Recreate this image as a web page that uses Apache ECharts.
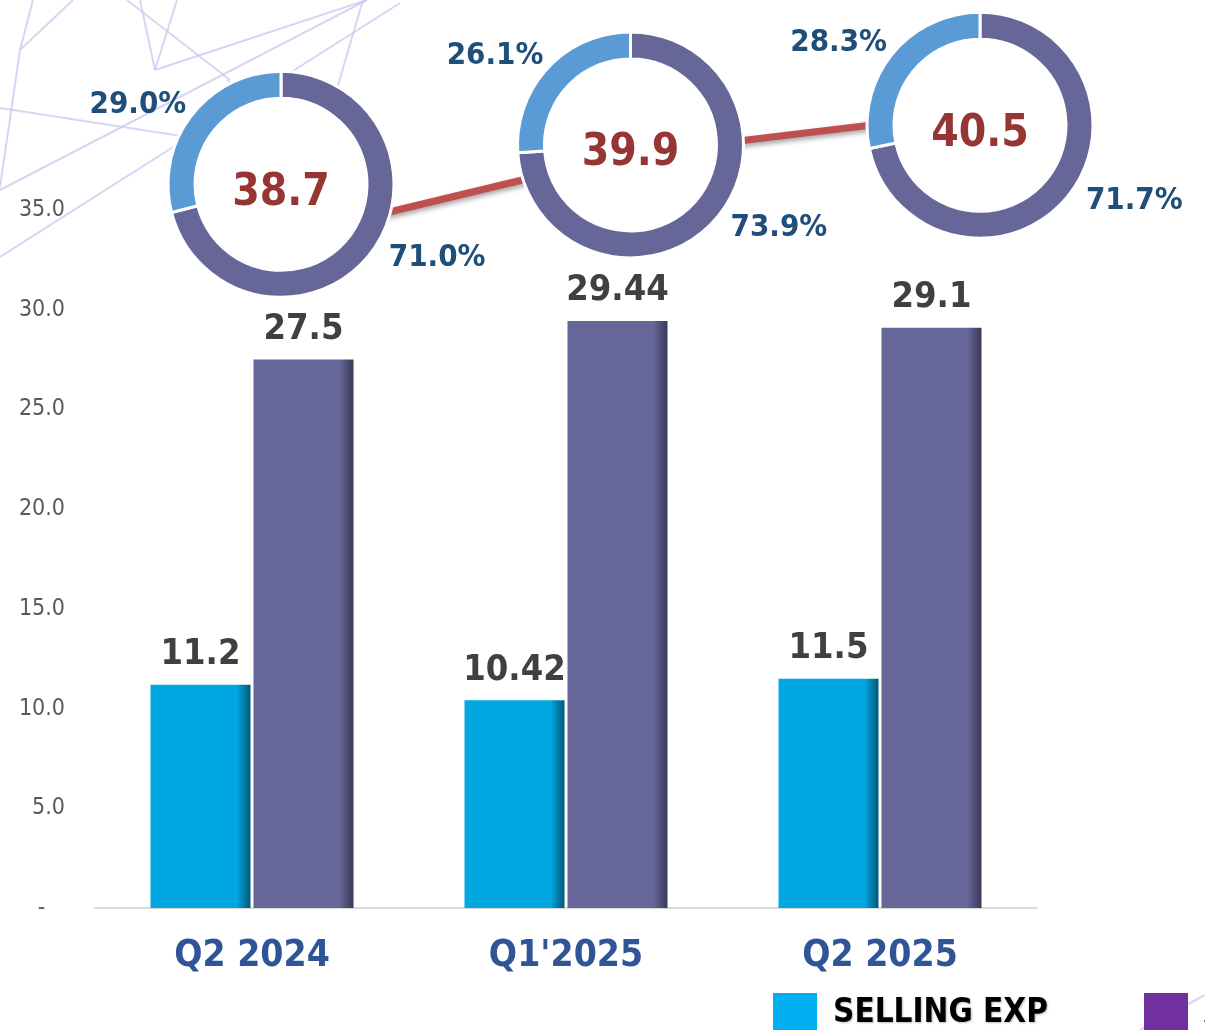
<!DOCTYPE html>
<html>
<head>
<meta charset="utf-8">
<script src="https://cdn.jsdelivr.net/npm/echarts@6/dist/echarts.min.js"></script>
<style>
  html, body { margin: 0; padding: 0; background: #fff; }
  #main { width: 1205px; height: 1030px; }
</style>
</head>
<body>
<div id="main"></div>
<script>
// chart data
var quarters = ['Q2 2024', "Q1'2025", 'Q2 2025'];
var sellingExp = [11.2, 10.42, 11.5];
var adminExp = [27.5, 29.44, 29.1];
var totalExp = [38.7, 39.9, 40.5];
var sellingPct = [29.0, 26.1, 28.3];
var adminPct = [71.0, 73.9, 71.7];
var legendNames = ['SELLING EXP', 'ADMIN EXP'];

var FONT = '"DejaVu Sans Condensed", "DejaVu Sans", sans-serif';

function barColor(main, dark) {
  return new echarts.graphic.LinearGradient(0, 0, 1, 0, [
    { offset: 0, color: main },
    { offset: 0.86, color: main },
    { offset: 1, color: dark }
  ]);
}

// faint decoration lines in the background
var deco = [
  [[0, 108], [317, 157]], [[33, 0], [20, 50]], [[20, 50], [0, 187]],
  [[20, 50], [73, 0]], [[140, 0], [155, 70]], [[155, 70], [177, 0]],
  [[155, 70], [367, 0]], [[127, 0], [230, 80]], [[0, 190], [367, 0]],
  [[0, 257], [400, 3]], [[317, 157], [363, 0]], [[317, 157], [227, 80]],
  [[1140, 1030], [1205, 995]]
];
var decoGraphics = deco.map(function (p) {
  return {
    type: 'line', silent: true, z: -10,
    shape: { x1: p[0][0], y1: p[0][1], x2: p[1][0], y2: p[1][1] },
    style: { stroke: 'rgba(200,200,240,0.75)', lineWidth: 2 }
  };
});

var chart = echarts.init(document.getElementById('main'));

var option = {
  animation: false,
  backgroundColor: '#fff',
  graphic: decoGraphics,
  legend: {
    data: [
      { name: legendNames[0], itemStyle: { color: '#00b0f0' } },
      { name: legendNames[1], itemStyle: { color: '#7030a0' } }
    ],
    icon: 'rect',
    left: 768,
    top: 988,
    width: 3000,
    itemWidth: 44,
    itemHeight: 40,
    itemGap: 96,
    selectedMode: false,
    textStyle: {
      fontFamily: FONT, fontSize: 33, fontWeight: 'bold', color: '#000',
      padding: [0, 0, 0, 11],
      textShadowColor: 'rgba(0,0,0,0.25)', textShadowBlur: 2, textShadowOffsetX: 1, textShadowOffsetY: 1
    }
  },
  grid: [
    { left: 95, right: 168, top: 210, bottom: 122 },
    { left: 281, right: 225, top: 76, height: 197 }
  ],
  xAxis: [
    {
      type: 'category',
      data: quarters,
      axisLine: { lineStyle: { color: '#d9d9d9', width: 2 } },
      axisTick: { show: false },
      axisLabel: {
        margin: 30, fontFamily: FONT, fontSize: 37, fontWeight: 'bold', color: '#2f5597'
      }
    },
    { type: 'category', gridIndex: 1, data: quarters, boundaryGap: false, show: false }
  ],
  yAxis: [
    {
      type: 'value', min: 0, max: 35, interval: 5,
      splitLine: { show: false },
      axisLine: { show: false },
      axisTick: { show: false },
      axisLabel: {
        margin: 30, fontFamily: FONT, fontSize: 23, color: '#595959',
        formatter: function (v) { return v === 0 ? '-   ' : v.toFixed(1); }
      }
    },
    { type: 'value', gridIndex: 1, min: 36, max: 42, show: false },
    { type: 'value', gridIndex: 1, min: 38.2, max: 41.0143, show: false }
  ],
  series: [
    {
      name: legendNames[0],
      type: 'bar',
      data: sellingExp,
      barWidth: 100,
      barGap: '3%',
      itemStyle: { color: barColor('#00a7e1', '#005877') },
      label: {
        show: true, position: 'top', distance: 12,
        fontFamily: FONT, fontSize: 36, fontWeight: 'bold', color: '#404040'
      }
    },
    {
      name: legendNames[1],
      type: 'bar',
      data: adminExp,
      barWidth: 100,
      itemStyle: { color: barColor('#666699', '#383856') },
      label: {
        show: true, position: 'top', distance: 12,
        fontFamily: FONT, fontSize: 36, fontWeight: 'bold', color: '#404040'
      }
    },
    {
      name: 'TOTAL',
      type: 'line',
      xAxisIndex: 1,
      yAxisIndex: 2,
      data: totalExp,
      symbol: 'none',
      z: 1,
      silent: true,
      lineStyle: {
        color: '#c0504d', width: 7,
        shadowColor: 'rgba(0,0,0,0.35)', shadowBlur: 5, shadowOffsetY: 3
      }
    }
  ]
};

chart.setOption(option);

// donuts sit on the totals, placed through the hidden axis
var extra = [];
totalExp.forEach(function (t, i) {
  var c = chart.convertToPixel({ xAxisIndex: 1, yAxisIndex: 1 }, [i, t]);
  // white hole with the total in the middle
  extra.push({
    type: 'pie',
    center: c,
    radius: [0, 86],
    z: 4,
    silent: true,
    label: {
      show: true, position: 'center',
      fontFamily: FONT, fontSize: 44, fontWeight: 'bold', color: '#963634',
      formatter: function () { return totalExp[i].toFixed(1); }
    },
    labelLayout: { dy: 9 },
    labelLine: { show: false },
    itemStyle: { color: '#fff' },
    data: [{ name: 'Total', value: t }]
  });
  extra.push({
    type: 'pie',
    center: c,
    radius: [86, 113],
    startAngle: 90,
    clockwise: true,
    z: 5,
    silent: true,
    avoidLabelOverlap: false,
    itemStyle: { borderColor: '#fff', borderWidth: 3 },
    label: {
      show: true, position: 'outside',
      fontFamily: FONT, fontSize: 31, fontWeight: 'bold', color: '#1f4e79',
      formatter: function (p) { return p.value.toFixed(1) + '%'; }
    },
    labelLine: { show: false, length: 17, length2: 0 },
    labelLayout: function (p) {
      return p.dataIndex === 1 ? { dx: 13 } : { dy: -6 };
    },
    data: [
      { name: 'Admin', value: adminPct[i], itemStyle: { color: '#666699' } },
      { name: 'Selling', value: sellingPct[i], itemStyle: { color: '#5b9bd5' } }
    ]
  });
});

chart.setOption({ series: option.series.concat(extra) });
</script>
</body>
</html>
